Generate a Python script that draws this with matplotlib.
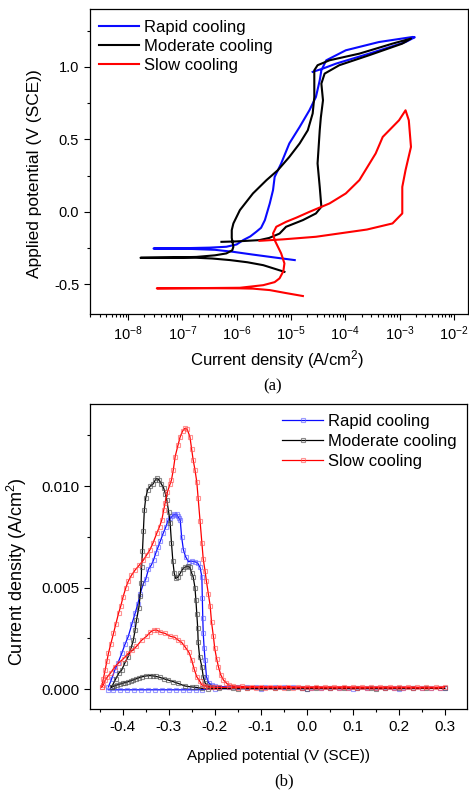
import numpy as np
import matplotlib
matplotlib.use('Agg')
import matplotlib.pyplot as plt
from matplotlib.ticker import LogLocator, MultipleLocator, NullFormatter

plt.rcParams['font.family'] = ['Liberation Sans', 'DejaVu Sans']
plt.rcParams['mathtext.default'] = 'regular'

###
# (a) polarization curves: log10 current density (A/cm2) vs potential (V SCE)
rapid_logi = [-4.93, -5.30, -5.70, -6.06, -6.40, -6.90, -7.53, -7.00, -6.50, -6.19, -6.00, -5.88,
              -5.75, -5.64, -5.55, -5.48, -5.39, -5.33, -5.30, -5.18, -5.03, -4.84, -4.66, -4.54,
              -4.47, -4.44, -4.35, -3.99, -3.38, -2.76, -2.72, -2.89, -3.56, -4.17, -4.41, -4.60]
rapid_E = [-0.333, -0.315, -0.295, -0.276, -0.262, -0.255, -0.253, -0.251, -0.247, -0.241, -0.225, -0.195,
           -0.170, -0.138, -0.110, -0.057, 0.058, 0.150, 0.241, 0.334, 0.472, 0.586, 0.701, 0.793,
           0.908, 0.977, 1.046, 1.115, 1.172, 1.207, 1.205, 1.172, 1.092, 1.023, 0.989, 0.966]

moderate_logi = [-5.12, -5.51, -5.80, -6.12, -6.45, -6.74, -7.20, -7.77, -7.20, -6.74, -6.40, -6.19,
                 -6.08, -6.06, -6.09, -6.09, -6.06, -5.94, -5.70, -5.45, -5.24, -5.03, -4.84, -4.69,
                 -4.60, -4.57, -4.57, -4.51, -4.29, -3.74, -3.13, -2.79, -2.95, -3.56, -4.11, -4.38,
                 -4.44, -4.41, -4.45, -4.47, -4.51, -4.47, -4.44, -4.54, -4.78, -5.09, -5.21, -5.40,
                 -5.58, -6.00, -6.28]
moderate_E = [-0.414, -0.368, -0.348, -0.333, -0.322, -0.317, -0.316, -0.317, -0.315, -0.311, -0.300, -0.287,
              -0.265, -0.241, -0.180, -0.126, -0.080, 0.012, 0.127, 0.219, 0.288, 0.379, 0.472, 0.563,
              0.679, 0.793, 0.977, 1.012, 1.046, 1.092, 1.161, 1.196, 1.161, 1.081, 1.012, 0.954,
              0.885, 0.770, 0.650, 0.563, 0.334, 0.172, 0.035, -0.011, -0.057, -0.103, -0.150, -0.180,
              -0.195, -0.204, -0.207]

slow_logi = [-4.78, -5.10, -5.39, -5.70, -5.94, -6.60, -7.47, -6.60, -5.94, -5.51, -5.30, -5.21,
             -5.14, -5.12, -5.18, -5.30, -5.33, -5.27, -5.09, -4.90, -4.66, -4.29, -3.99, -3.74,
             -3.44, -3.31, -3.19, -3.01, -2.89, -2.83, -2.79, -2.89, -2.95, -2.95, -3.13, -3.60,
             -4.54, -5.15, -5.58]
slow_E = [-0.581, -0.560, -0.540, -0.530, -0.528, -0.527, -0.528, -0.526, -0.524, -0.506, -0.485, -0.459,
          -0.410, -0.356, -0.287, -0.195, -0.149, -0.103, -0.069, -0.040, 0.000, 0.058, 0.127, 0.219,
          0.403, 0.517, 0.563, 0.632, 0.701, 0.632, 0.448, 0.288, 0.172, -0.011, -0.080, -0.122,
          -0.172, -0.190, -0.200]

###
# (b) current density (A/cm2) vs applied potential (V SCE)
rapid_b_E = [-0.431, -0.424, -0.417, -0.410, -0.402, -0.395, -0.388, -0.380, -0.373, -0.367, -0.362,
             -0.355, -0.350, -0.344, -0.338, -0.333, -0.328, -0.323, -0.318, -0.312, -0.306, -0.301,
             -0.297, -0.293, -0.289, -0.286, -0.283, -0.280, -0.277, -0.275, -0.272, -0.268, -0.263,
             -0.257, -0.250, -0.243, -0.237, -0.232, -0.228, -0.227, -0.226, -0.225, -0.223, -0.221,
             -0.218, -0.213, -0.207, -0.200, -0.19, -0.17, -0.15, -0.13, -0.11, -0.09, -0.07, -0.05,
             -0.03, -0.01, 0.01, 0.03, 0.05, 0.07, 0.09, 0.11, 0.13, 0.15, 0.17, 0.19, 0.21, 0.23,
             0.25, 0.27, 0.29, 0.30, 0.20, 0.10, 0.00, -0.10, -0.20, -0.228, -0.240, -0.255, -0.270,
             -0.285, -0.300, -0.315, -0.330, -0.345, -0.360, -0.375, -0.390, -0.405, -0.420, -0.431]
rapid_b_i = [0.0001, 0.0005, 0.00094, 0.0013, 0.00176, 0.0022, 0.00258, 0.0032, 0.00373, 0.0042, 0.0047,
             0.0052, 0.0054, 0.0059, 0.0061, 0.00635, 0.0067, 0.0070, 0.0073, 0.00767, 0.0080, 0.00833,
             0.0084, 0.0085, 0.0086, 0.00857, 0.0086, 0.0085, 0.0084, 0.00833, 0.0075, 0.00685, 0.0065,
             0.00627, 0.0063, 0.00627, 0.0062, 0.0060, 0.00553, 0.0045, 0.0035, 0.00274, 0.0020, 0.00143,
             0.0006, 0.0003, 0.0002, 0.00015, 0.00012, 0.0001, 0.0001, 0.0001, 0.00009, 0.00009, 0.00008, 0.00008,
             0.00008, 0.00007, 0.00007, 0.00007, 0.00006, 0.00006, 0.00006, 0.00006, 0.00005, 0.00005, 0.00005, 0.00005,
             0.00005, 0.00005, 0.00004, 0.00004, 0.00004, 0.00004, 0.00002, 0.00002, 0.00002, 0.00002, 0.00002,
             -0.00003, -0.00004, -0.00004, -0.00004, -0.00004, -0.00004, -0.00004, -0.00004, -0.00004,
             -0.00004, -0.00004, -0.00004, -0.00004, -0.00004, -0.00004]

moderate_b_E = [-0.424, -0.415, -0.408, -0.402, -0.395, -0.388, -0.382, -0.377, -0.373, -0.370, -0.365,
                -0.362, -0.360, -0.359, -0.357, -0.355, -0.353, -0.350, -0.346, -0.340, -0.334, -0.329,
                -0.326, -0.321, -0.316, -0.311, -0.307, -0.304, -0.300, -0.297, -0.294, -0.291, -0.288,
                -0.285, -0.280, -0.275, -0.270, -0.265, -0.259, -0.254, -0.250, -0.247, -0.243, -0.241,
                -0.239, -0.237, -0.236, -0.233, -0.228, -0.225, -0.221, -0.215, -0.208, -0.19, -0.16,
                -0.13, -0.10, -0.07, -0.04, -0.01, 0.02, 0.05, 0.08, 0.11, 0.14, 0.17, 0.20, 0.23, 0.26,
                0.30, 0.15, 0.00, -0.15, -0.215, -0.228, -0.240, -0.250, -0.265, -0.280, -0.290, -0.301,
                -0.310, -0.320, -0.328, -0.335, -0.341, -0.350, -0.358, -0.365, -0.371, -0.377, -0.383,
                -0.388, -0.394, -0.400, -0.406, -0.412, -0.418, -0.424]
moderate_b_i = [0.0001, 0.0005, 0.0008, 0.00094, 0.0013, 0.0016, 0.0020, 0.0024, 0.0029, 0.0034, 0.0040,
                0.0046, 0.0052, 0.0060, 0.0068, 0.0078, 0.0088, 0.0094, 0.0098, 0.0100, 0.0101, 0.0103,
                0.01038, 0.0103, 0.0101, 0.0099, 0.0096, 0.0093, 0.0087, 0.0082, 0.0072, 0.0063, 0.0057,
                0.00545, 0.0055, 0.0057, 0.0059, 0.0060, 0.00605, 0.0060, 0.0057, 0.00553, 0.0050, 0.0044,
                0.0037, 0.0030, 0.0023, 0.0016, 0.0011, 0.0006, 0.0003, 0.00015, 0.0001, 0.00007, 0.00006,
                0.00006, 0.00005, 0.00005, 0.00005, 0.00004, 0.00004, 0.00004, 0.00004, 0.00004, 0.00003, 0.00003,
                0.00003, 0.00003, 0.00003, 0.00003, 0.00002, 0.00002, 0.00002, 0.00002, 0.00003, 0.00008, 0.0001,
                0.00015, 0.00028, 0.00036, 0.00044, 0.0005, 0.00058, 0.00062, 0.00065, 0.00066, 0.00064, 0.0006,
                0.00055, 0.0005, 0.00045, 0.0004, 0.00036, 0.00032, 0.00028, 0.00024, 0.0002, 0.00015, 0.0001]

slow_b_E = [-0.446, -0.442, -0.438, -0.434, -0.431, -0.426, -0.420, -0.415, -0.409, -0.404, -0.399,
            -0.393, -0.388, -0.381, -0.373, -0.364, -0.355, -0.348, -0.341, -0.334, -0.326, -0.320,
            -0.315, -0.311, -0.308, -0.303, -0.297, -0.294, -0.290, -0.286, -0.280, -0.275, -0.270,
            -0.265, -0.260, -0.254, -0.250, -0.247, -0.243, -0.239, -0.236, -0.232, -0.228, -0.225,
            -0.221, -0.218, -0.214, -0.210, -0.207, -0.203, -0.200, -0.196, -0.192, -0.187, -0.181,
            -0.175, -0.170, -0.16, -0.14, -0.12, -0.10, -0.08, -0.06, -0.04, -0.02, 0.00, 0.02, 0.04,
            0.06, 0.08, 0.10, 0.12, 0.14, 0.16, 0.18, 0.20, 0.22, 0.24, 0.26, 0.28, 0.30, 0.29, 0.27,
            0.25, 0.23, 0.21, 0.19, 0.17, 0.15, 0.13, 0.11, 0.09, 0.07, 0.05, 0.03, 0.01, -0.01, -0.03,
            -0.05, -0.07, -0.09, -0.11, -0.13, -0.15, -0.17, -0.19, -0.200, -0.207, -0.214, -0.221,
            -0.228, -0.233, -0.239, -0.245, -0.250, -0.256, -0.265, -0.272, -0.279, -0.287, -0.297,
            -0.308, -0.318, -0.326, -0.333, -0.340, -0.348, -0.359, -0.370, -0.379, -0.388, -0.398,
            -0.408, -0.417, -0.426, -0.433, -0.438, -0.442, -0.446]
slow_b_i = [0.0001, 0.0005, 0.00094, 0.0014, 0.00176, 0.0022, 0.00274, 0.0032, 0.00373, 0.0041, 0.00455,
            0.0050, 0.0053, 0.0056, 0.00586, 0.0061, 0.00635, 0.0066, 0.00685, 0.0072, 0.00767, 0.0080,
            0.00833, 0.0088, 0.00915, 0.0097, 0.0101, 0.0103, 0.0108, 0.01145, 0.0120, 0.01243, 0.0127,
            0.01284, 0.0128, 0.01243, 0.0118, 0.0113, 0.0108, 0.0102, 0.0094, 0.0083, 0.0072, 0.0064,
            0.0058, 0.0053, 0.0047, 0.0041, 0.0033, 0.0026, 0.0020, 0.0015, 0.0011, 0.0007, 0.00044,
            0.0003, 0.0002, 0.00015, 0.00013, 0.00012, 0.00012, 0.00011, 0.00011, 0.00012, 0.0001, 0.0001,
            0.00011, 0.0001, 0.0001, 0.00011, 0.0001, 0.0001, 0.00009, 0.0001, 0.0001, 0.00009, 0.0001,
            0.00009, 0.00009, 0.00009, 0.0001, 0.00005, 0.00005, 0.00005, 0.00005, 0.00006, 0.00005,
            0.00005, 0.00006, 0.00005, 0.00005, 0.00006, 0.00005, 0.00006, 0.00005, 0.00006, 0.00006,
            0.00006, 0.00006, 0.00007, 0.00007, 0.00007, 0.00007, 0.00007, 0.00008, 0.00008, 0.00008,
            0.00008, 0.0001, 0.00015, 0.0002, 0.0004, 0.0006, 0.0010, 0.00143, 0.0018, 0.00209,
            0.0023, 0.0024, 0.00255, 0.0026, 0.00274, 0.0028, 0.0029, 0.0029, 0.0028, 0.0026, 0.0024,
            0.0021, 0.0019, 0.00176, 0.0015, 0.0013, 0.0011, 0.0008, 0.0006, 0.00044, 0.0002, 0.0001]

labels = ['Rapid cooling', 'Moderate cooling', 'Slow cooling']
colors = ['#0a0aff', 'black', '#ff0000']
marker_edges = [(0.35, 0.35, 1.0, 0.6), (0.3, 0.3, 0.3, 0.65), (1.0, 0.3, 0.3, 0.6)]

fig = plt.figure(figsize=(4.69, 7.90), dpi=100)


def style_axes(ax):
    for sp in ax.spines.values():
        sp.set_linewidth(0.9)
    ax.tick_params(which='both', direction='out', top=False, right=False, width=0.8)
    ax.tick_params(which='major', length=4.3)
    ax.tick_params(which='minor', length=2.3)


# panel (a)
ax1 = fig.add_axes([90 / 469, 1 - 314 / 790, 378 / 469, 305 / 790])
for logi, E, lab, c in zip([rapid_logi, moderate_logi, slow_logi],
                           [rapid_E, moderate_E, slow_E], labels, colors):
    ax1.plot(10 ** np.array(logi), E, color=c, lw=1.5, label=lab)
ax1.set_xscale('log')
ax1.set_xlim(10 ** -8.7, 10 ** -1.74)
ax1.set_ylim(-0.705, 1.4)
ax1.xaxis.set_major_locator(LogLocator(base=10, numticks=20))
ax1.xaxis.set_minor_locator(LogLocator(base=10, subs=np.arange(2, 10), numticks=20))
ax1.xaxis.set_minor_formatter(NullFormatter())
ax1.yaxis.set_major_locator(MultipleLocator(0.5))
ax1.yaxis.set_minor_locator(MultipleLocator(0.25))
ax1.yaxis.set_major_formatter(plt.FuncFormatter(lambda v, p: f'{v:.1f}'))
style_axes(ax1)
ax1.tick_params(labelsize=10.5)
ax1.set_xlabel('Current density (A/cm$^2$)', fontsize=12, va='center')
ax1.xaxis.set_label_coords(0.495, -0.148)
ax1.set_ylabel('Applied potential (V (SCE))', fontsize=12.5, va='center')
ax1.yaxis.set_label_coords(-0.148, 0.459)
ax1.legend(loc='upper left', bbox_to_anchor=(-0.005, 1.0), frameon=False, fontsize=12,
           handlelength=2.4, handletextpad=0.3, labelspacing=0.25, borderaxespad=0.25)
fig.text(272.7 / 469, 1 - 386.7 / 790, '(a)', family='Liberation Serif', fontsize=12,
         ha='center', va='center')

# panel (b)
ax2 = fig.add_axes([90 / 469, 1 - 709 / 790, 377 / 469, 305 / 790])
for E, cur, lab, c, mc in zip([rapid_b_E, moderate_b_E, slow_b_E],
                              [rapid_b_i, moderate_b_i, slow_b_i], labels, colors, marker_edges):
    ax2.plot(E, cur, color=c, lw=0.9, marker='s', ms=3.2, mfc='none', mec=mc, mew=0.8, label=lab)
ax2.set_xlim(-0.471, 0.348)
ax2.set_ylim(-0.000985, 0.01404)
ax2.xaxis.set_major_locator(MultipleLocator(0.1))
ax2.xaxis.set_minor_locator(MultipleLocator(0.05))
ax2.xaxis.set_major_formatter(plt.FuncFormatter(lambda v, p: f'{v:.1f}'))
ax2.yaxis.set_major_locator(MultipleLocator(0.005))
ax2.yaxis.set_minor_locator(MultipleLocator(0.0025))
ax2.yaxis.set_major_formatter(plt.FuncFormatter(lambda v, p: f'{v:.3f}'))
style_axes(ax2)
ax2.tick_params(labelsize=11)
ax2.set_xlabel('Applied potential (V (SCE))', fontsize=11, va='center')
ax2.xaxis.set_label_coords(0.501, -0.154)
ax2.set_ylabel('Current density (A/cm$^2$)', fontsize=13, va='center')
ax2.yaxis.set_label_coords(-0.194, 0.45)
ax2.legend(loc='upper right', bbox_to_anchor=(1.0, 1.0), frameon=False, fontsize=12,
           handlelength=2.5, handletextpad=0.3, labelspacing=0.3, borderaxespad=0.2)
fig.text(283.7 / 469, 1 - 781.7 / 790, '(b)', family='Liberation Serif', fontsize=12,
         ha='center', va='center')

fig.savefig('out.png', dpi=100)
